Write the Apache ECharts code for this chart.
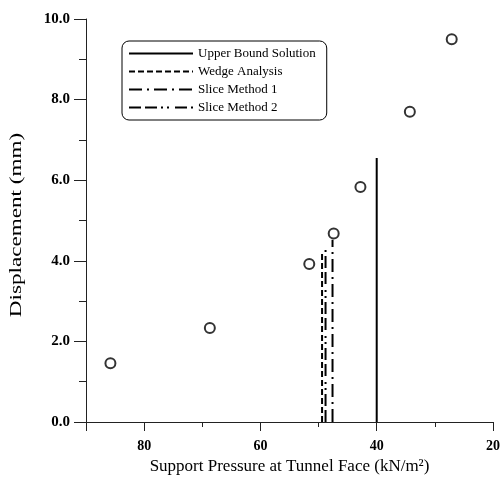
<!DOCTYPE html>
<html>
<head>
<meta charset="utf-8">
<script src="https://cdn.jsdelivr.net/npm/echarts@6/dist/echarts.min.js"></script>
<style>
  html, body { margin: 0; padding: 0; background: #fff; }
  #chart { width: 503px; height: 487px; }
</style>
</head>
<body>
<div id="chart"></div>
<script>
// Measured displacements (circles)
const measuredPressure = [85.8, 68.7, 51.6, 47.4, 42.8, 34.3, 27.1];
const measuredDisp     = [1.46, 2.33, 3.92, 4.68, 5.83, 7.70, 9.50];

// Limit support pressures predicted by each method, drawn as vertical lines
const methodNames    = ['Upper Bound Solution', 'Wedge Analysis', 'Slice Method 1', 'Slice Method 2'];
const methodPressure = [40.0, 49.4, 47.6, 48.8];
const methodTop      = [6.55, 4.20, 4.52, 4.30];

const xTicks = [20, 40, 60, 80];
const yTicks = [0, 2, 4, 6, 8, 10];

const SERIF = '"Liberation Serif", "DejaVu Serif", serif';
const dashes = ['solid', [6, 3], [13, 5, 2, 5], [12, 4, 12, 4, 2, 4, 2, 6]];

const lineSeries = methodNames.map((name, i) => ({
  name: name,
  type: 'line',
  xAxisIndex: 0,
  yAxisIndex: 0,
  symbol: 'none',
  data: [[methodPressure[i], 0], [methodPressure[i], methodTop[i]]],
  lineStyle: { color: '#000', width: 2, type: dashes[i] },
  itemStyle: { color: '#000' },
  z: 3
}));

const chart = echarts.init(document.getElementById('chart'), null, { renderer: 'canvas' });

chart.setOption({
  animation: false,
  backgroundColor: '#fff',
  grid: { left: 86, right: 10, top: 19, bottom: 65 },
  legend: {
    data: methodNames,
    orient: 'vertical',
    left: 122,
    top: 41,
    itemWidth: 64,
    itemHeight: 8,
    itemGap: 5,
    itemTextGap: 9,
    padding: [6, 11, 6, 6],
    borderColor: '#000',
    borderWidth: 1,
    borderRadius: 7,
    backgroundColor: '#fff',
    itemStyle: { opacity: 0 },
    textStyle: { fontFamily: SERIF, fontSize: 13, color: '#000' },
    selectedMode: false
  },
  graphic: [{
    type: 'text',
    x: 17,
    y: 225,
    rotation: Math.PI / 2,
    scaleX: 1.36,
    style: {
      text: 'Displacement (mm)',
      font: '17px ' + SERIF,
      fill: '#000',
      align: 'center',
      verticalAlign: 'middle'
    }
  }],
  xAxis: [
    {
      type: 'value',
      min: 20, max: 90, interval: 10,
      inverse: true,
      position: 'bottom',
      axisLine: { show: true, onZero: false, lineStyle: { color: '#222', width: 1 } },
      axisTick: { show: true, length: 5, lineStyle: { color: '#222' } },
      axisLabel: { show: false },
      splitLine: { show: false }
    },
    {
      type: 'value',
      min: 20, max: 90, interval: 20,
      inverse: true,
      position: 'bottom',
      name: 'Support Pressure at Tunnel Face (kN/m²)',
      nameLocation: 'middle',
      nameGap: 36,
      nameTextStyle: { fontFamily: SERIF, fontSize: 17, color: '#000' },
      axisLine: { show: false, onZero: false },
      axisTick: { show: true, length: 9, lineStyle: { color: '#222' } },
      axisLabel: {
        margin: 17,
        fontFamily: SERIF, fontSize: 14, fontWeight: 'bold', color: '#000',
        formatter: v => (xTicks.indexOf(v) >= 0 ? String(v) : '')
      },
      splitLine: { show: false }
    }
  ],
  yAxis: {
    type: 'value',
    min: 0, max: 10, interval: 2,
    axisLine: { show: true, onZero: false, lineStyle: { color: '#222', width: 1 } },
    axisTick: { show: true, length: 12, lineStyle: { color: '#222' } },
    minorTick: { show: true, splitNumber: 2, length: 7, lineStyle: { color: '#222' } },
    axisLabel: {
      margin: 16,
      fontFamily: SERIF, fontSize: 15, fontWeight: 'bold', color: '#000',
      formatter: v => (yTicks.indexOf(v) >= 0 ? v.toFixed(1) : '')
    },
    splitLine: { show: false }
  },
  series: lineSeries.concat([{
    name: 'Measured',
    type: 'scatter',
    xAxisIndex: 0,
    yAxisIndex: 0,
    symbol: 'emptyCircle',
    symbolSize: 10,
    data: measuredPressure.map((p, i) => [p, measuredDisp[i]]),
    itemStyle: { color: '#000', borderColor: '#000', borderWidth: 1 },
    z: 4
  }])
});
</script>
</body>
</html>
